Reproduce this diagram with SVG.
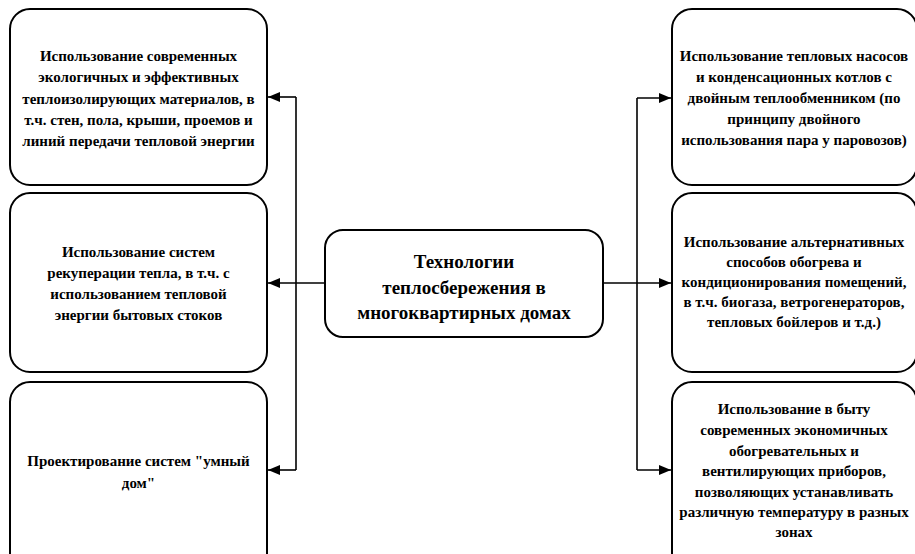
<svg xmlns="http://www.w3.org/2000/svg" width="915" height="554" viewBox="0 0 915 554">
<defs>
<marker id="ah" viewBox="0 0 12 10" refX="12" refY="5" markerWidth="12" markerHeight="10" markerUnits="userSpaceOnUse" orient="auto">
<path d="M0,0 L12,5 L0,10 Z" fill="#000"/>
</marker>
<style>
.box{fill:#fff;stroke:#000;stroke-width:2}
text{font-family:"Liberation Serif","DejaVu Serif",serif;font-weight:bold;font-size:15px;fill:#000;text-anchor:middle}
.c{font-size:19px}
.ln{fill:none;stroke:#000;stroke-width:1.6}
</style>
</defs>
<rect width="915" height="554" fill="#fff"/>
<g id="connectors">
<path class="ln" d="M296,97 V470"/>
<path class="ln" d="M325,283 H268" marker-end="url(#ah)"/>
<path class="ln" d="M296,97 H268" marker-end="url(#ah)"/>
<path class="ln" d="M296,470 H268" marker-end="url(#ah)"/>
<path class="ln" d="M637,98 V470"/>
<path class="ln" d="M603,283 H671" marker-end="url(#ah)"/>
<path class="ln" d="M637,98 H671" marker-end="url(#ah)"/>
<path class="ln" d="M637,470 H671" marker-end="url(#ah)"/>
</g>
<g id="center">
<rect class="box" x="325" y="230" width="278" height="107" rx="18"/>
<text class="c"><tspan x="464" y="268">Технологии</tspan><tspan x="464" y="293.5">теплосбережения в</tspan><tspan x="464" y="319">многоквартирных домах</tspan></text>
</g>
<g id="left1">
<rect class="box" x="10" y="9" width="257" height="176" rx="20"/>
<text><tspan x="138.5" y="61">Использование современных</tspan><tspan x="138.5" y="82">экологичных и эффективных</tspan><tspan x="138.5" y="103.5">теплоизолирующих материалов, в</tspan><tspan x="138.5" y="125">т.ч. стен, пола, крыши, проемов и</tspan><tspan x="138.5" y="145.5">линий передачи тепловой энергии</tspan></text>
</g>
<g id="left2">
<rect class="box" x="10" y="193" width="257" height="179" rx="20"/>
<text><tspan x="138.5" y="257">Использование систем</tspan><tspan x="138.5" y="277.5">рекуперации тепла, в т.ч. с</tspan><tspan x="138.5" y="298.5">использованием тепловой</tspan><tspan x="138.5" y="319.5">энергии бытовых стоков</tspan></text>
</g>
<g id="left3">
<rect class="box" x="10" y="382" width="257" height="200" rx="20"/>
<text><tspan x="138.5" y="466">Проектирование систем "умный</tspan><tspan x="138.5" y="488">дом"</tspan></text>
</g>
<g id="right1">
<rect class="box" x="672" y="9" width="245" height="176" rx="20"/>
<text><tspan x="794" y="61">Использование тепловых насосов</tspan><tspan x="794" y="82">и конденсационных котлов с</tspan><tspan x="794" y="103">двойным теплообменником (по</tspan><tspan x="794" y="124">принципу двойного</tspan><tspan x="794" y="145">использования пара у паровозов)</tspan></text>
</g>
<g id="right2">
<rect class="box" x="672" y="193" width="245" height="179" rx="20"/>
<text><tspan x="794" y="247">Использование альтернативных</tspan><tspan x="794" y="267">способов обогрева и</tspan><tspan x="794" y="287">кондиционирования помещений,</tspan><tspan x="794" y="307">в т.ч. биогаза, ветрогенераторов,</tspan><tspan x="794" y="327">тепловых бойлеров и т.д.)</tspan></text>
</g>
<g id="right3">
<rect class="box" x="672" y="382" width="245" height="200" rx="20"/>
<text><tspan x="794" y="414">Использование в быту</tspan><tspan x="794" y="435">современных экономичных</tspan><tspan x="794" y="456">обогревательных и</tspan><tspan x="794" y="476">вентилирующих приборов,</tspan><tspan x="794" y="496.5">позволяющих устанавливать</tspan><tspan x="794" y="517">различную температуру в разных</tspan><tspan x="794" y="537">зонах</tspan></text>
</g>
</svg>
